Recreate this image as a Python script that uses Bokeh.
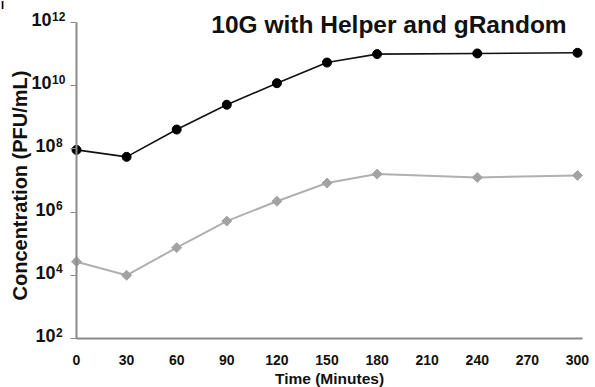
import math
from bokeh.plotting import figure
from bokeh.models import Range1d, FixedTicker, Label, CustomJSTickFormatter
from bokeh.embed import file_html
from bokeh.resources import INLINE

# Time points (minutes) and phage titers (PFU/mL)
time_min = [0, 30, 60, 90, 120, 150, 180, 240, 300]
titer_black = [9.3e7, 5.6e7, 4.1e8, 2.5e9, 1.2e10, 5.4e10, 1.0e11, 1.05e11, 1.1e11]
titer_gray = [2.7e4, 1.0e4, 7.5e4, 5.2e5, 2.2e6, 8.3e6, 1.6e7, 1.25e7, 1.45e7]

x_ticks = [0, 30, 60, 90, 120, 150, 180, 210, 240, 270, 300]
y_exponents = [2, 4, 6, 8, 10, 12]

title_text = "10G with Helper and gRandom"
x_label = "Time (Minutes)"
y_label = "Concentration (PFU/mL)"

FONT = "Liberation Sans"
TEXT_COLOR = "#111111"
AXIS_COLOR = "#8a8a8a"

# drawing geometry: the axes span 0..303 min and 1e2..1e12; the frame
# covers the whole canvas so that margin texts are not clipped
X_END = 303.0
PX_PER_MIN = 506.0 / X_END
PX_PER_DECADE = 316.0 / 10.0
LEFT_PX = 76.0      # canvas x of t = 0
AXIS_Y_PX = 338.0   # canvas y of 1e2
WIDTH = 595
HEIGHT = 387


def px_to_min(px):
    return px / PX_PER_MIN


def px_to_decades(px):
    return px / PX_PER_DECADE


def canvas_x(px):
    """data x for a canvas pixel column"""
    return px_to_min(px - LEFT_PX)


def canvas_y(py):
    """data y for a canvas pixel row"""
    return 10 ** (2 + px_to_decades(AXIS_Y_PX - py))


p = figure(
    width=WIDTH, height=HEIGHT,
    x_range=Range1d(canvas_x(0), canvas_x(WIDTH)),
    y_range=Range1d(canvas_y(HEIGHT), canvas_y(0)),
    y_axis_type="log",
    output_backend="svg", toolbar_location=None,
    min_border_left=0, min_border_right=0,
    min_border_top=0, min_border_bottom=0,
)
p.outline_line_color = None
p.xgrid.visible = False
p.ygrid.visible = False
p.background_fill_color = "white"
p.border_fill_color = "white"

# x axis along 1e2
xa = p.xaxis[0]
xa.fixed_location = 1e2
xa.bounds = (0, X_END)
xa.ticker = FixedTicker(ticks=x_ticks)
xa.minor_tick_line_color = None
xa.major_tick_line_color = None
xa.axis_line_color = AXIS_COLOR
xa.axis_line_width = 2
xa.major_label_text_font = FONT
xa.major_label_text_font_style = "bold"
xa.major_label_text_font_size = "14px"
xa.major_label_text_color = TEXT_COLOR
xa.major_label_standoff = 10

# y axis at t = 0: line and ticks from bokeh, power-of-ten labels drawn below
ya = p.yaxis[0]
ya.fixed_location = 0
ya.bounds = (1e2, 1e12)
ya.ticker = FixedTicker(ticks=[float(10 ** e) for e in y_exponents])
ya.formatter = CustomJSTickFormatter(code="return ''")
ya.minor_tick_line_color = None
ya.major_tick_out = 6
ya.major_tick_in = 0
ya.major_tick_line_color = AXIS_COLOR
ya.major_tick_line_width = 1
ya.axis_line_color = AXIS_COLOR
ya.axis_line_width = 2
ya.major_label_standoff = 0


def add_text(x, y, text, size, align="center", angle=0.0):
    p.add_layout(Label(
        x=x, y=y, text=text, angle=angle,
        text_align=align, text_baseline="middle",
        text_font=FONT, text_font_style="bold",
        text_font_size=size, text_color=TEXT_COLOR,
    ))


# power-of-ten tick labels: "10" with a raised exponent
for e in y_exponents:
    exp_txt = str(e)
    split_x = -px_to_min(17.0 + 4.0 * len(exp_txt))
    add_text(split_x, 10 ** (e + px_to_decades(3.0)), "10", "18px", align="right")
    add_text(split_x + px_to_min(0.5), 10 ** (e + px_to_decades(6.5)), exp_txt, "12px",
             align="left")

# axis titles
add_text(canvas_x(329), canvas_y(377.5), x_label, "15.5px")
add_text(canvas_x(19.5), canvas_y(185), y_label, "20px", angle=math.pi / 2)

# series
p.line(time_min, titer_gray, line_color="#b0b0b0", line_width=2)
p.scatter(time_min, titer_gray, marker="square", angle=math.pi / 4, size=7,
          fill_color="#a3a3a3", line_color="#a3a3a3")
p.line(time_min, titer_black, line_color="#111111", line_width=1.6)
p.scatter(time_min, titer_black, marker="circle", size=9,
          fill_color="#000000", line_color="#000000")

# panel title
add_text(canvas_x(388.5), canvas_y(23.5), title_text, "24.5px")

# panel letter at the top-left corner
p.add_layout(Label(
    x=canvas_x(0.5), y=canvas_y(4.0), text="I",
    text_align="left", text_baseline="middle",
    text_font=FONT, text_font_style="bold",
    text_font_size="11px", text_color="#000000",
))

open("out.html", "w").write(file_html(p, INLINE))
